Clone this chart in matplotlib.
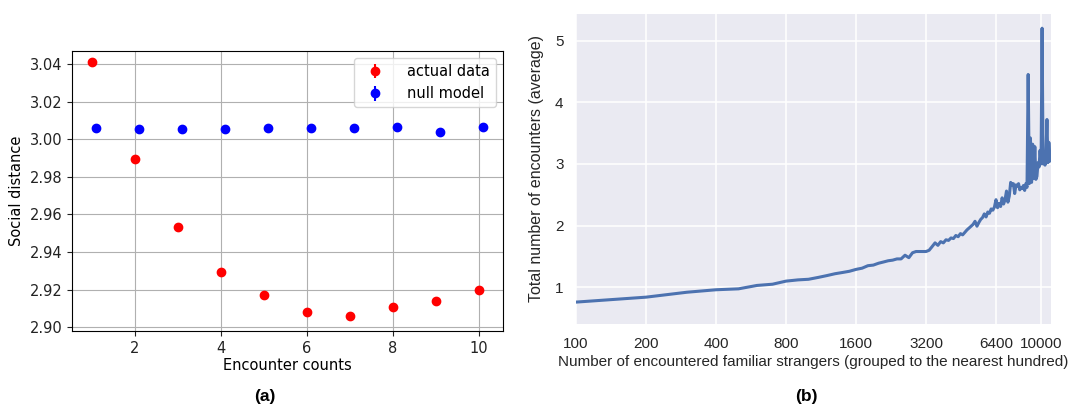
import matplotlib
matplotlib.use("Agg")
import matplotlib.pyplot as plt
import numpy as np

# (a) social distance vs encounter counts
counts = [1, 2, 3, 4, 5, 6, 7, 8, 9, 10]
actual = [3.041, 2.9895, 2.9532, 2.9293, 2.917, 2.908, 2.906, 2.9108, 2.9142, 2.9196]
actual_err = [0.0008] * 10
null_model = [3.0058, 3.0055, 3.0055, 3.0055, 3.0058, 3.0058, 3.0058, 3.0065, 3.0038, 3.0065]
null_err = [0.0008] * 10
null_shift = 0.1  # null model points drawn slightly to the right

# (b) average encounters vs familiar strangers (grouped to hundreds)
strangers = list(range(100, 11001, 100))
encounters = [
    0.76, 0.84, 0.92, 0.96, 0.975, 1.03, 1.05, 1.10, 1.12, 1.13,
    1.16, 1.19, 1.22, 1.24, 1.26, 1.29, 1.31, 1.35, 1.36, 1.39,
    1.41, 1.43, 1.44, 1.46, 1.46, 1.52, 1.48, 1.56, 1.58, 1.58,
    1.58, 1.58, 1.60, 1.66, 1.72, 1.68, 1.74, 1.72, 1.77, 1.76,
    1.80, 1.79, 1.84, 1.82, 1.87, 1.85, 1.89, 1.93, 1.96, 1.99,
    2.02, 2.07, 1.99, 2.05, 2.10, 2.13, 2.19, 2.14, 2.22, 2.20,
    2.27, 2.25, 2.30, 2.42, 2.29, 2.36, 2.31, 2.45, 2.35, 2.42,
    2.56, 2.38, 2.48, 2.70, 2.66, 2.68, 2.52, 2.66, 2.64, 2.68,
    2.58, 2.62, 2.60, 2.65, 2.57, 2.68, 2.62, 4.45, 2.68, 3.42,
    2.70, 3.32, 2.76, 3.28, 2.75, 2.80, 3.02, 2.95, 3.22, 3.00,
    5.20, 3.00, 3.12, 2.98, 3.20, 3.72, 3.02, 3.35, 3.15, 3.05,
]
b_ticks = [100, 200, 400, 800, 1600, 3200, 6400, 10000]

W, H = 1084, 409
fig = plt.figure(figsize=(W / 100, H / 100), dpi=100)

# ---- panel (a): classic matplotlib look ----
ax1 = fig.add_axes([72 / W, 1 - 331 / H, 431 / W, 280 / H])
ax1.errorbar(counts, actual, yerr=actual_err, fmt='o', color='red',
             markersize=6, label='actual data')
ax1.errorbar([c + null_shift for c in counts], null_model, yerr=null_err,
             fmt='o', color='blue', markersize=6, label='null model')
ax1.set_ylim(2.898, 3.047)
ax1.set_yticks(np.arange(2.90, 3.041, 0.02))
ax1.set_yticklabels([f"{v:.2f}" for v in np.arange(2.90, 3.041, 0.02)])
ax1.set_xticks([2, 4, 6, 8, 10])
ax1.grid(True, color='#b0b0b0', linewidth=0.8)
ax1.set_axisbelow(True)
ax1.tick_params(labelsize=10.5, colors='#222222')
ax1.set_xlabel("Encounter counts", fontsize=10.5, labelpad=2)
ax1.set_ylabel("Social distance", fontsize=10.5)
ax1.legend(loc='upper right', fontsize=10.5, handletextpad=1.2,
           borderpad=0.4, labelspacing=0.5)

# ---- panel (b): seaborn darkgrid look ----
sans = ['Liberation Sans', 'DejaVu Sans']
ax2 = fig.add_axes([576 / W, 1 - 324 / H, 474.7 / W, 310 / H])
ax2.set_facecolor('#EAEAF2')
ax2.plot(strangers, encounters, color='#4c72b0', linewidth=2.2)
ax2.set_xscale('log', base=2)
ax2.set_xlim(100, 11000)
ax2.set_ylim(0.405, 5.43)
ax2.set_xticks(b_ticks)
ax2.set_xticklabels([str(t) for t in b_ticks], family=sans)
ax2.minorticks_off()
ax2.set_yticks([1, 2, 3, 4, 5])
ax2.set_yticklabels(['1', '2', '3', '4', '5'], family=sans)
ax2.grid(True, color='white', linewidth=1.1)
ax2.set_axisbelow(True)
for s in ax2.spines.values():
    s.set_visible(False)
ax2.tick_params(length=0, labelsize=11, colors='#262626', pad=9)
ax2.set_xlabel("Number of encountered familiar strangers (grouped to the nearest hundred)",
               family=sans, fontsize=11, color='#262626', labelpad=3)
ax2.set_ylabel("Total number of encounters (average)", family=sans,
               fontsize=11.5, color='#262626', labelpad=8)

# captions
fig.text(265 / W, 1 - 396 / H, "(a)", ha='center', va='center',
         family=sans, fontweight='bold', fontsize=12.5)
fig.text(806 / W, 1 - 396 / H, "(b)", ha='center', va='center',
         family=sans, fontweight='bold', fontsize=12.5)

fig.savefig("out.png", dpi=100)
